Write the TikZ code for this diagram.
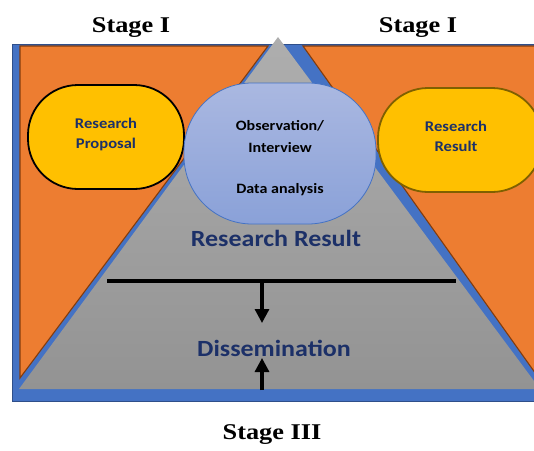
\documentclass[tikz,border=0pt]{standalone}
\usepackage{fontspec}
\usepackage{tikz}
\usetikzlibrary{arrows.meta}
\newfontfamily\stagefont[FakeStretch=1.17]{Liberation Serif}
\newfontfamily\boxfont[FakeStretch=1.12]{Carlito}
\definecolor{frameblue}{HTML}{4472C4}
\definecolor{frameedge}{HTML}{2F4F8A}
\definecolor{orangefill}{HTML}{ED7D31}
\definecolor{orangeedge}{HTML}{843C0C}
\definecolor{graytop}{HTML}{AEAEAE}
\definecolor{graybottom}{HTML}{939393}
\definecolor{capsuleyellow}{HTML}{FFC000}
\definecolor{capsuleedge}{HTML}{7F6000}
\definecolor{bubbletop}{HTML}{AAB8E1}
\definecolor{bubblebottom}{HTML}{8AA1D8}
\definecolor{navytext}{HTML}{1C3068}
\tikzset{
  stagelabel/.style={font=\stagefont\bfseries\fontsize{22.5}{26}\selectfont,
    anchor=base},
  capsule/.style={fill=capsuleyellow, line width=1.8pt,
    minimum width=156pt, minimum height=104pt, rounded corners=50pt},
  capsuletext/.style={align=center, text=navytext,
    font=\boxfont\bfseries\fontsize{14.8}{20}\selectfont},
  bubble/.style={top color=bubbletop, bottom color=bubblebottom,
    draw=frameblue, line width=0.8pt,
    minimum width=192pt, minimum height=141pt, rounded corners=68pt},
  bubbletext/.style={align=center,
    font=\boxfont\bfseries\fontsize{14.3}{21.7}\selectfont},
  bigtext/.style={text=navytext, anchor=base,
    font=\boxfont\bfseries\fontsize{23.2}{26}\selectfont},
  corner/.style={fill=orangefill, draw=orangeedge, line width=1.1pt}
}

\begin{document}
\begin{tikzpicture}[x=1pt,y=-1pt,
      bar/.style={line width=3.6pt},
      push/.style={line width=3.2pt,
        -{Triangle[length=14pt,width=14pt]}}]

    \useasboundingbox (0,0) rectangle (534,450);
    \clip (0,0) rectangle (534,450);

    % frame and the two orange corners
    \filldraw[fill=frameblue, draw=frameedge, line width=1pt]
      (12,44) rectangle (560,401);
    \filldraw[corner] (20,46) -- (268,46) -- (20,378) -- cycle;
    \filldraw[corner] (303,46) -- (570,46) -- (570,422) -- cycle;

    % the pyramid
    \shade[top color=graytop, bottom color=graybottom]
      (278,37) -- (19,389) -- (540,389) -- cycle;

    % stages
    \node[stagelabel] (StageLeft) at (131,32) {Stage I};
    \node[stagelabel] (StageRight) at (418,32) {Stage I};
    \node[stagelabel] (StageBottom) at (272,439) {Stage III};

    % stage I boxes
    \node[capsule, draw=black] (Proposal) at (106,137) {};
    \node[capsule, draw=capsuleedge, minimum width=164pt]
      (Result) at (460,140) {};
    \node[bubble] (Fieldwork) at (280,153.5) {};

    \node[capsuletext] (ProposalText) at ([yshift=3pt]Proposal.center)
      {Research\\Proposal};
    \node[capsuletext] (ResultText) at ([xshift=-4pt,yshift=3.5pt]Result.center)
      {Research\\Result};
    \node[bubbletext] (FieldworkText) at ([yshift=-5pt]Fieldwork.center)
      {Observation/\\Interview\\[19.6pt]Data analysis};

    % inside the pyramid
    \node[bigtext] (PyramidResult) at (276,246.5) {Research Result};
    \node[bigtext] (Dissemination) at (274,356) {Dissemination};

    \coordinate (BarLeft) at (107,281);
    \coordinate (BarRight) at (456,281);
    \coordinate (BarMid) at (262,281);
    \coordinate (DissTop) at (262,323);
    \coordinate (DissBottom) at (262,358);
    \coordinate (BaseMid) at (262,390);

    \draw[bar] (BarLeft) -- (BarRight);
    \draw[push] (BarMid) -- (DissTop);
    \draw[push] (BaseMid) -- (DissBottom);

  \end{tikzpicture}
\end{document}
